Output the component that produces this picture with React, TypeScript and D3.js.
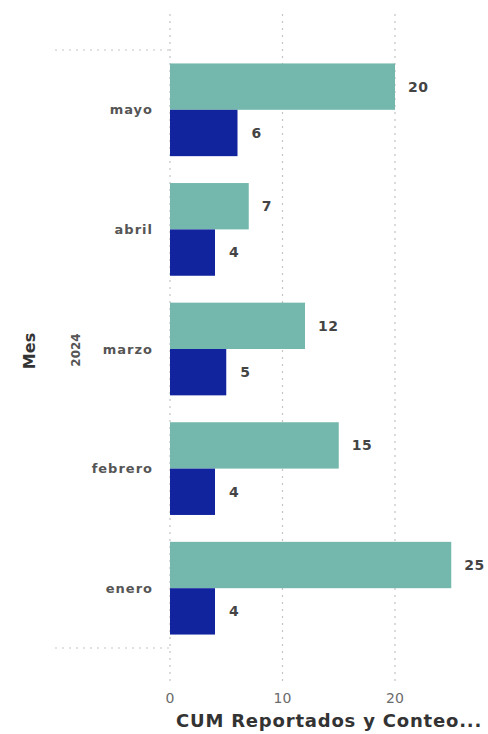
import React from 'react';
import * as d3 from 'd3';

const months = ['mayo', 'abril', 'marzo', 'febrero', 'enero'];
const reportados = [20, 7, 12, 15, 25];
const conteo = [6, 4, 5, 4, 4];
const xTicks = [0, 10, 20];

const W = 488;
const H = 734;
const TEAL = '#74B8AD';
const BLUE = '#12239E';
const FONT = '"DejaVu Sans", sans-serif';

const App: React.FC = () => {
  const x = d3.scaleLinear().domain([0, 20]).range([170, 395]);
  const y = d3.scaleBand<string>().domain(months).range([50, 648]);
  const inner = d3.scaleBand<string>()
    .domain(['rep', 'con'])
    .range([0, y.bandwidth()])
    .paddingOuter(0.29)
    .paddingInner(0);

  const rows = months.map((m, i) => ({ m, rep: reportados[i], con: conteo[i] }));

  return (
    <svg width={W} height={H} style={{ position: 'absolute', left: 0, top: 0, background: '#fff' }}>
      {/* vertical gridlines */}
      {xTicks.map(t => (
        <line key={t} x1={x(t)} x2={x(t)} y1={14} y2={684}
          stroke="#c4c4c4" strokeWidth={1.2} strokeDasharray="2,5" />
      ))}
      {/* group separators for 2024 */}
      {[50, 648].map(v => (
        <line key={v} x1={55} x2={x(0)} y1={v} y2={v}
          stroke="#c4c4c4" strokeWidth={1.2} strokeDasharray="2,5" />
      ))}

      {rows.map(d => {
        const y0 = y(d.m) || 0;
        const yr = y0 + (inner('rep') || 0);
        const yc = y0 + (inner('con') || 0);
        const bh = inner.bandwidth();
        return (
          <g key={d.m}>
            <rect x={x(0)} y={yr} width={x(d.rep) - x(0)} height={bh} fill={TEAL} />
            <rect x={x(0)} y={yc} width={x(d.con) - x(0)} height={bh} fill={BLUE} />
            <text x={x(d.rep) + 13} y={yr + bh / 2} dy="0.35em" fontFamily={FONT}
              fontWeight={700} fontSize={14} letterSpacing={0.4} fill="#444">{d.rep}</text>
            <text x={x(d.con) + 14} y={yc + bh / 2} dy="0.35em" fontFamily={FONT}
              fontWeight={700} fontSize={14} letterSpacing={0.4} fill="#444">{d.con}</text>
            <text x={153} y={y0 + y.bandwidth() / 2} dy="0.35em" textAnchor="end"
              fontFamily={FONT} fontWeight={700} fontSize={13} letterSpacing={1}
              fill="#555">{d.m}</text>
          </g>
        );
      })}

      {/* year label */}
      <text transform={`translate(${76},${350}) rotate(-90)`} textAnchor="middle"
        dy="0.35em" fontFamily={FONT} fontWeight={700} fontSize={12} fill="#555">2024</text>
      {/* y title */}
      <text transform={`translate(${29},${351}) rotate(-90)`} textAnchor="middle"
        dy="0.35em" fontFamily={FONT} fontWeight={700} fontSize={16} fill="#333">Mes</text>

      {/* x tick labels */}
      {xTicks.map(t => (
        <text key={t} x={x(t)} y={698} dy="0.35em" textAnchor="middle"
          fontFamily={FONT} fontSize={14} fill="#6b6b6b">{t}</text>
      ))}
      <text x={176} y={721} dy="0.35em" fontFamily={FONT} fontWeight={700}
        fontSize={18} letterSpacing={0.8} fill="#333">CUM Reportados y Conteo...</text>
    </svg>
  );
};

export default App;
